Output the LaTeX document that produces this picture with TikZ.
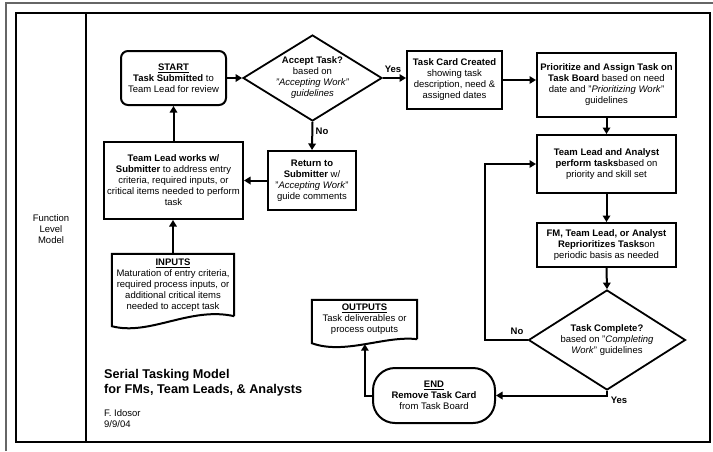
\documentclass[tikz,border=0pt]{standalone}
\usepackage{fontspec}
\setmainfont{Liberation Sans}
\usetikzlibrary{shapes.geometric,arrows.meta}
\newcommand{\boxfont}{\fontsize{9.5}{11}\selectfont}
\newcommand{\titlefont}{\fontsize{12.7}{15}\selectfont\bfseries}

\tikzset{
  box/.style={draw, line width=2pt, align=center, inner sep=0pt, font=\boxfont},
  decision/.style={draw, diamond, line width=1.8pt, inner sep=0pt},
  txt/.style={align=center, inner sep=0pt, font=\boxfont},
  docbox/.style={align=center, inner sep=0pt, font=\boxfont},
  docline/.style={line width=2pt},
  arr/.style={line width=2pt, -{Triangle[length=6.5pt,width=7.5pt]}},
  lbl/.style={inner sep=0pt, font=\boxfont\bfseries},
  frame/.style={line width=2pt},
  outerframe/.style={line width=1.3pt, black!60},
  divider/.style={line width=1.3pt}
}

\begin{document}
\begin{tikzpicture}[x=1pt,y=-1pt]
\useasboundingbox (0,0) rectangle (713,451);

% page frames and the swim-lane divider
\draw[outerframe] (6,451) -- (6,3) -- (713,3);
\draw[frame] (16,13) rectangle (710,442);
\draw[divider] (86,13) -- (86,442);

\node[txt] (lane) at (51,229) {Function\\Level\\Model};

% process steps
\node[box, rounded corners=7pt, minimum width=105pt, minimum height=54pt] (start) at (173.5,78)
  {\underline{\textbf{START}}\\\textbf{Task Submitted} to\\Team Lead for review};

\node[decision, minimum width=139pt, minimum height=86pt] (accept) at (312.5,78) {};
\node[txt] (accept-t) at (accept)
  {\textbf{Accept Task?}\\based on\\\textit{"Accepting Work"}\\\textit{guidelines}};

\node[box, minimum width=95pt, minimum height=58pt] (taskcard) at (454.5,80)
  {\textbf{Task Card Created}\\showing task\\description, need \&\\assigned dates};

\node[box, minimum width=139pt, minimum height=64pt] (prio) at (606.5,85)
  {\textbf{Prioritize and Assign Task on}\\\textbf{Task Board} based on need\\date and "\textit{Prioritizing Work}"\\guidelines};

\node[box, minimum width=139pt, minimum height=58pt] (perform) at (606.5,164)
  {\textbf{Team Lead and Analyst}\\\textbf{perform tasks}based on\\priority and skill set};

\node[box, minimum width=139pt, minimum height=44pt] (fm) at (606.5,245)
  {\textbf{FM, Team Lead, or Analyst}\\\textbf{Reprioritizes Tasks}on\\periodic basis as needed};

\node[decision, minimum width=157pt, minimum height=100pt] (complete) at (607,340) {};
\node[txt] (complete-t) at (complete)
  {\textbf{Task Complete?}\\based on "\textit{Completing}\\\textit{Work}" guidelines};

\node[box, minimum width=88pt, minimum height=59pt] (return) at (312,180.5)
  {\textbf{Return to}\\\textbf{Submitter} w/\\"\textit{Accepting Work}"\\guide comments};

\node[box, minimum width=139pt, minimum height=77pt] (teamwork) at (173.5,180.5)
  {\textbf{Team Lead works w/}\\\textbf{Submitter} to address entry\\criteria, required inputs, or\\critical items needed to perform\\task};

\node[box, rounded corners=22pt, minimum width=122pt, minimum height=55pt] (end) at (434,395.5)
  {\underline{\textbf{END}}\\\textbf{Remove Task Card}\\from Task Board};

% document shapes
\node[docbox, minimum width=122pt, minimum height=62pt] (inputs) at (173,285)
  {\underline{\textbf{INPUTS}}\\Maturation of entry criteria,\\required process inputs, or\\additional critical items\\needed to accept task};
\draw[docline] (inputs.south east) -- (inputs.north east) -- (inputs.north west)
  -- ([yshift=-10pt]inputs.south west)
  .. controls ([xshift=38pt,yshift=-20pt]inputs.south west) and ([xshift=-44pt,yshift=10pt]inputs.south east)
  .. (inputs.south east);

\node[docbox, minimum width=105pt, minimum height=39pt] (outputs) at (364.5,319.5)
  {\underline{\textbf{OUTPUTS}}\\Task deliverables or\\process outputs};
\draw[docline] (outputs.south east) -- (outputs.north east) -- (outputs.north west)
  -- ([yshift=-4pt]outputs.south west)
  .. controls ([xshift=33pt,yshift=-16pt]outputs.south west) and ([xshift=-32pt,yshift=4pt]outputs.south east)
  .. (outputs.south east) coordinate[pos=0.5] (out-b);

% connectors
\coordinate (loop) at (485,340);
\draw[arr] (start.east) -- (accept.west);
\draw[arr] (accept.east) -- (accept.east -| taskcard.west);
\draw[arr] (taskcard.east) -- (taskcard.east -| prio.west);
\draw[arr] (prio.south) -- (perform.north);
\draw[arr] (perform.south) -- (fm.north);
\draw[arr] (fm.south) -- (complete.north);
\draw[arr] (complete.west) -- (complete.west -| loop) |- (perform.west);
\draw[arr] (complete.south) |- (end.east);
\draw[arr] (end.west) -| (out-b);
\draw[arr] (accept.south) -- (return.north);
\draw[arr] (return.west) -- (teamwork.east);
\draw[arr] (teamwork.north) -- (teamwork.north |- start.south);
\draw[arr] (inputs.north) -- (inputs.north |- teamwork.south);

% branch labels
\node[lbl] (yes-a) at (393,69) {Yes};
\node[lbl] (no-a) at (322,131) {No};
\node[lbl] (no-c) at (517,331) {No};
\node[lbl] (yes-c) at (619,400) {Yes};

% title block
\node[anchor=west, align=left, inner sep=0pt, font=\titlefont] (title) at (104,382.5)
  {Serial Tasking Model\\for FMs, Team Leads, \& Analysts};
\node[anchor=west, align=left, inner sep=0pt, font=\boxfont] (author) at (104,419)
  {F. Idosor\\9/9/04};
\end{tikzpicture}
\end{document}
